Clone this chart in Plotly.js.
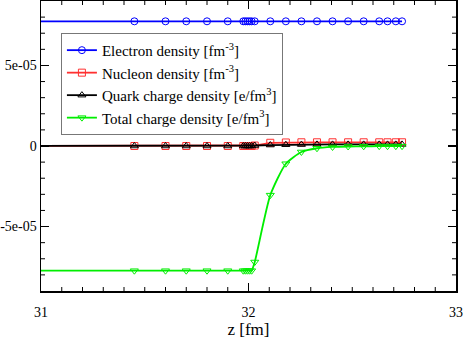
<!DOCTYPE html>
<html>
<head>
<meta charset="utf-8">
<script src="https://cdn.plot.ly/plotly-3.0.1.min.js"></script>
</head>
<body style="margin:0;background:#fff">
<span style="font-family:'Liberation Serif';font-size:15px;position:absolute;left:0;top:0;visibility:hidden">z [fm]</span>
<div id="chart" style="width:463px;height:341px"></div>
<script>
// ---- Data (z in fm) ----
// first point sits left of the visible range so the lines start at the frame
const zPts = [30.5, 31.45, 31.6, 31.7, 31.8, 31.9, 31.975, 31.985, 31.995, 32.005, 32.015,
              32.03, 32.105, 32.18, 32.255, 32.33, 32.405, 32.48, 32.555, 32.63, 32.67, 32.71, 32.74];

const electron = [7.74e-5, 7.74e-5, 7.74e-5, 7.74e-5, 7.74e-5, 7.74e-5, 7.74e-5, 7.74e-5, 7.74e-5, 7.74e-5, 7.74e-5,
                  7.74e-5, 7.74e-5, 7.74e-5, 7.74e-5, 7.74e-5, 7.74e-5, 7.74e-5, 7.74e-5, 7.74e-5, 7.74e-5, 7.74e-5, 7.74e-5];

const nucleon  = [0, 0, 0, 0, 0, 0, 0, 0, 0, 0, 0,
                  0.3e-6, 2.0e-6, 2.2e-6, 2.3e-6, 2.3e-6, 2.3e-6, 2.3e-6, 2.3e-6, 2.3e-6, 2.3e-6, 2.3e-6, 2.3e-6];

const quark    = [0, 0, 0, 0, 0, 0, 0, 0, 0, 0, 0,
                  0.3e-6, 0.6e-6, 0.8e-6, 0.9e-6, 1.0e-6, 1.0e-6, 1.0e-6, 1.0e-6, 1.0e-6, 1.0e-6, 1.0e-6, 1.0e-6];

const total    = [-7.74e-5, -7.74e-5, -7.74e-5, -7.74e-5, -7.74e-5, -7.74e-5, -7.74e-5, -7.74e-5, -7.74e-5, -7.74e-5, -7.74e-5,
                  -7.2e-5, -3.05e-5, -1.1e-5, -3.7e-6, -1.4e-6, -6e-7, -3e-7, -2e-7, -1e-7, -1e-7, -1e-7, -1e-7];

const yTickVals = [-5e-5, 0, 5e-5];
const yTickText = ['-5e-05', '0', '5e-05'];
const xTickVals = [31, 32, 33];
const xRange = [31, 33];
const yRange = [-9e-5, 9e-5];
const xMinorStep = 0.1;
const yMinorStep = 1e-5;

const names = [
  'Electron density [fm<sup>-3</sup>]',
  'Nucleon density [fm<sup>-3</sup>]',
  'Quark charge density [e/fm<sup>3</sup>]',
  'Total charge density [e/fm<sup>3</sup>]'
];

// ---- Traces ----
function series(y, name, color, symbol, shape){
  return {
    type:'scatter', mode:'lines+markers', name,
    x: zPts, y,
    line:{ color, width:1.8, shape: shape||'linear', smoothing:0.6 },
    marker:{ symbol, size:7, color, line:{ color, width:1 } }
  };
}

const traces = [
  series(electron, names[0], '#0000ff', 'circle-open'),
  series(nucleon,  names[1], '#ff3030', 'square-open'),
  series(quark,    names[2], '#000000', 'triangle-up-open'),
  series(total,    names[3], '#00ee00', 'triangle-down-open', 'spline')
];

// ---- Minor ticks as pixel-sized shapes on all four sides ----
const minorTicks = [];
for (let i = 1; i * xMinorStep < xRange[1] - xRange[0] - 1e-9; i++) {
  const v = xRange[0] + i * xMinorStep;
  if (Math.abs(v - Math.round(v)) < 1e-9) continue;
  minorTicks.push({ type:'line', xref:'x', yref:'paper', ysizemode:'pixel', yanchor:0, x0:v, x1:v, y0:0, y1:4, line:{ color:'#000', width:1 } });
  minorTicks.push({ type:'line', xref:'x', yref:'paper', ysizemode:'pixel', yanchor:1, x0:v, x1:v, y0:0, y1:-4, line:{ color:'#000', width:1 } });
}
for (let i = 1; i * yMinorStep < yRange[1] - yRange[0] - 1e-12; i++) {
  const v = yRange[0] + i * yMinorStep;
  if (yTickVals.some(t => Math.abs(t - v) < 1e-12)) continue;
  minorTicks.push({ type:'line', xref:'paper', yref:'y', xsizemode:'pixel', xanchor:0, y0:v, y1:v, x0:0, x1:4, line:{ color:'#000', width:1 } });
  minorTicks.push({ type:'line', xref:'paper', yref:'y', xsizemode:'pixel', xanchor:1, y0:v, y1:v, x0:0, x1:-4, line:{ color:'#000', width:1 } });
}

const fontFam = 'Liberation Serif';

const layout = {
  width:463, height:341,
  margin:{ l:41, r:7, t:1, b:50 },
  paper_bgcolor:'#fff', plot_bgcolor:'#fff',
  font:{ family:fontFam, size:14, color:'#000' },
  showlegend:true,
  legend:{
    x:0.048, y:0.89, xanchor:'left', yanchor:'top',
    bgcolor:'#fff', bordercolor:'#777', borderwidth:1,
    font:{ family:fontFam, size:15, color:'#000' },
    itemwidth:30, tracegroupgap:0
  },
  xaxis:{
    range:xRange, tickmode:'array', tickvals:xTickVals, ticktext:xTickVals.map(String),
    ticks:'inside', ticklen:8, tickwidth:1.2, tickcolor:'#000',
    showline:true, linecolor:'#000', linewidth:1.5, mirror:'allticks',
    showgrid:false, zeroline:false, ticklabelstandoff:8,
    tickfont:{ family:fontFam, size:14, color:'#000' },
    title:{ text:'z [fm]', font:{ family:fontFam, size:17, color:'#000' }, standoff:0 }
  },
  yaxis:{
    range:yRange, tickmode:'array', tickvals:yTickVals, ticktext:yTickText,
    ticks:'inside', ticklen:8, tickwidth:1.2, tickcolor:'#000',
    showline:true, linecolor:'#000', linewidth:1.5, mirror:'allticks',
    showgrid:false, zeroline:false,
    tickfont:{ family:fontFam, size:14, color:'#000' }
  },
  shapes: minorTicks
};

Plotly.newPlot('chart', traces, layout, { staticPlot:true, displayModeBar:false });
</script>
</body>
</html>
